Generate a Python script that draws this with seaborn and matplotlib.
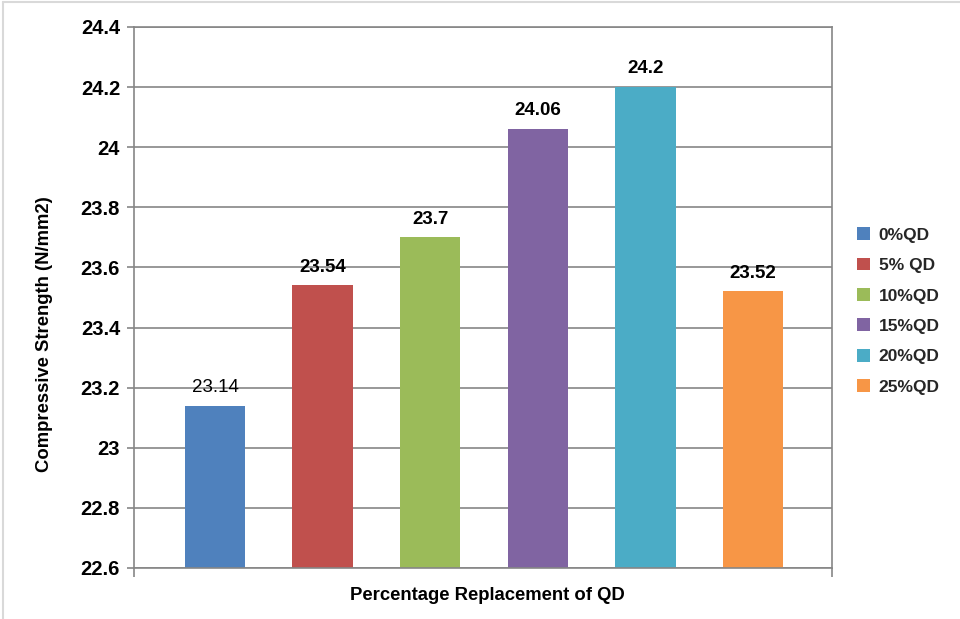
import matplotlib
matplotlib.use("Agg")
import matplotlib.pyplot as plt
from matplotlib.patches import Patch
from matplotlib.lines import Line2D
import seaborn as sns

# Compressive strength for each quarry-dust replacement level
categories = ["0%QD", "5% QD", "10%QD", "15%QD", "20%QD", "25%QD"]
strength = [23.14, 23.54, 23.7, 24.06, 24.2, 23.52]
bar_colors = ["#4F81BD", "#C0504D", "#9BBB59", "#8064A2", "#4BACC6", "#F79646"]
y_ticks = [22.6, 22.8, 23.0, 23.2, 23.4, 23.6, 23.8, 24.0, 24.2, 24.4]
bold_value_label = [False, True, True, True, True, True]

sns.set_theme(style="white")
plt.rcParams["font.family"] = ["Liberation Sans", "DejaVu Sans"]

grid_color = "#868686"

fig = plt.figure(figsize=(9.6, 6.19), dpi=100)
ax = fig.add_axes([134 / 960, 1 - 568 / 619, (832 - 134) / 960, (568 - 27) / 619])

sns.barplot(x=categories, y=strength, hue=categories, order=categories,
            hue_order=categories, palette=bar_colors, saturation=1,
            width=0.56, legend=False, linewidth=0, ax=ax)

ax.set_ylim(22.6, 24.4)
ax.set_xlim(-0.753, 5.734)

# y axis: bold tick labels and horizontal gridlines
ax.set_yticks(y_ticks)
ax.set_yticklabels([f"{round(t, 1):g}" for t in y_ticks], fontsize=14.5, fontweight="bold")
ax.yaxis.grid(True, color=grid_color, linewidth=1.2)
ax.set_axisbelow(True)
ax.tick_params(axis="y", which="major", left=True, length=5, width=1.2,
               color=grid_color, pad=5, labelcolor="black")

# x axis: category boundary ticks only, no labels
ax.set_xticks([-0.753, 5.734])
ax.set_xticklabels(["", ""])
ax.tick_params(axis="x", which="major", bottom=True, length=6.5, width=1.2,
               color=grid_color)

for side in ["left", "right", "bottom", "top"]:
    ax.spines[side].set_color(grid_color)
    ax.spines[side].set_linewidth(1.2)

# axis titles
fig.text(487 / 960, 1 - 596 / 619, "Percentage Replacement of QD", fontsize=13.3,
         fontweight="bold", color="black", ha="center", va="center")
fig.text(45 / 960, 1 - 334 / 619, "Compressive Strength (N/mm2)", fontsize=13.3,
         fontweight="bold", color="black", ha="center", va="center", rotation=90)

# value labels above each bar
for i, (v, b) in enumerate(zip(strength, bold_value_label)):
    ax.annotate(f"{v:g}", (i, v), xytext=(0, 7), textcoords="offset points",
                ha="center", va="bottom", fontsize=13.5 if b else 13.5,
                fontweight="bold" if b else "normal", color="black")

# legend on the right
handles = [Patch(facecolor=c, edgecolor="none", label=lab)
           for c, lab in zip(bar_colors, categories)]
fig.legend(handles=handles, loc="center left",
           bbox_to_anchor=(857 / 960, 1 - 311 / 619), frameon=False,
           prop={"size": 12.5, "weight": "bold"}, handlelength=0.75,
           handleheight=0.75, handletextpad=0.5, labelspacing=0.86,
           borderpad=0, borderaxespad=0)

# light frame around the chart area
fig.add_artist(Line2D([0.003, 0.003], [0.0, 0.996], transform=fig.transFigure,
                      color="#d9d9d9", linewidth=1.5))
fig.add_artist(Line2D([0.003, 1.0], [0.996, 0.996], transform=fig.transFigure,
                      color="#d9d9d9", linewidth=1.5))

fig.savefig("out.png", dpi=100, facecolor="white")
